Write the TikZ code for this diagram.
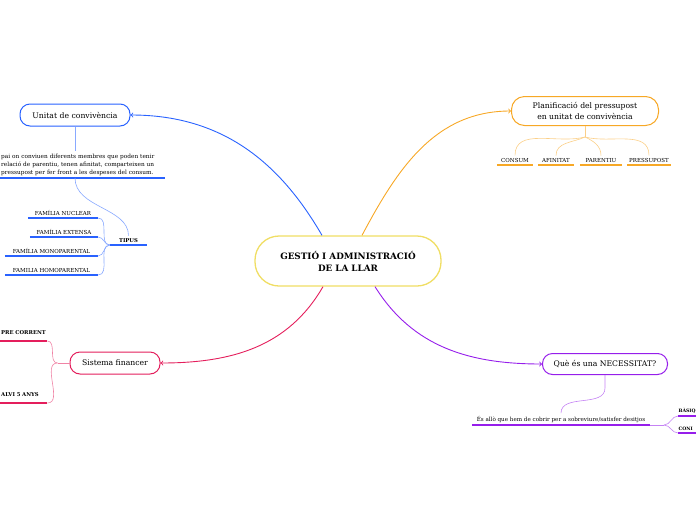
\documentclass[tikz,border=0pt]{standalone}
\usepackage{fontspec}
\setmainfont{DejaVu Serif}
\usetikzlibrary{calc}

\definecolor{llaryellow}{RGB}{240,222,100}
\definecolor{unitatblue}{RGB}{41,98,255}
\definecolor{planiforange}{RGB}{247,168,38}
\definecolor{financred}{RGB}{228,30,92}
\definecolor{necesspurple}{RGB}{150,30,235}

\tikzset{
  topic/.style={draw=#1, fill=white, line width=1pt, rounded corners=10pt, inner sep=2pt, font=\fontsize{7.7}{11}\selectfont},
  leaf/.style={inner xsep=1pt, inner ysep=2.5pt, font=\fontsize{5.5}{6}\selectfont},
  uline/.style={draw=#1, line width=1.4pt},
  branch/.style={draw=#1!55, line width=0.6pt},
  link/.style={draw=#1, line width=0.9pt, ->},
}

\begin{document}
\begin{tikzpicture}[x=1pt,y=1pt]
			\useasboundingbox (0,0) rectangle (696,-520);
			% centre
			\node[topic=llaryellow, line width=1.3pt, rounded corners=24pt, minimum width=186pt, minimum height=50pt, font=\fontsize{8.8}{12}\selectfont\bfseries, align=center] (llar) at (348,-261) {GESTIÓ I ADMINISTRACIÓ\\DE LA LLAR};
			% topics
			\node[topic=unitatblue, minimum width=110pt, minimum height=22pt] (unitat) at (75,-115) {Unitat de convivència};
			\node[topic=planiforange, minimum width=147pt, minimum height=29pt, rounded corners=13pt, align=center] (planif) at (585,-111) {Planificació del pressupost\\en unitat de convivència};
			\node[topic=financred, minimum width=90pt, minimum height=22pt] (sistema) at (115,-363) {Sistema financer};
			\node[topic=necesspurple, minimum width=125pt, minimum height=21pt] (necess) at (605,-364) {Què és una NECESSITAT?};
			\draw[link=unitatblue] ([xshift=-26pt]llar.north) to[out=120,in=0] (unitat.east);
			\draw[link=planiforange] ([xshift=14pt]llar.north) to[out=62,in=180] (planif.west);
			\draw[link=financred] ([xshift=-25pt]llar.south) to[out=-120,in=0] (sistema.east);
			\draw[link=necesspurple] ([xshift=27pt]llar.south) to[out=-58,in=180] (necess.west);
			% unitat de convivencia
			\node[leaf, anchor=south west, text width=163pt, align=left, font=\fontsize{5.8}{8}\selectfont] (defn) at (0,-178) {pai on conviuen diferents membres que poden tenir\\relació de parentiu, tenen afinitat, comparteixen un\\pressupost per fer front a les despeses del consum.};
			\draw[uline=unitatblue] (defn.south west) -- (defn.south east);
			\draw[branch=unitatblue] (unitat.south) -- (unitat.south |- defn.north);
			\node[leaf, anchor=south, minimum width=37pt, font=\fontsize{5.3}{6}\selectfont\bfseries] (tipus) at (128.5,-245) {TIPUS};
			\draw[uline=unitatblue] (tipus.south west) -- (tipus.south east);
			\draw[branch=unitatblue] (unitat.south |- defn.south) .. controls +(0,-30) and +(0,28) .. (tipus.north);
			\node[leaf, anchor=south, minimum width=70pt] (nuclear) at (63,-218) {FAMÍLIA NUCLEAR};
			\node[leaf, anchor=south, minimum width=68pt] (extensa) at (64,-237) {FAMÍLIA EXTENSA};
			\node[leaf, anchor=south, minimum width=93pt] (mono) at (51.5,-256) {FAMÍLIA MONOPARENTAL};
			\node[leaf, anchor=south, minimum width=93pt] (homo) at (51.5,-275) {FAMILIA HOMOPARENTAL};
			\draw[uline=unitatblue] (nuclear.south west) -- (nuclear.south east);
			\draw[uline=unitatblue] (extensa.south west) -- (extensa.south east);
			\draw[uline=unitatblue] (mono.south west) -- (mono.south east);
			\draw[uline=unitatblue] (homo.south west) -- (homo.south east);
			\draw[branch=unitatblue] (nuclear.south east) to[out=0,in=180] (tipus.south west);
			\draw[branch=unitatblue] (extensa.south east) to[out=0,in=180] (tipus.south west);
			\draw[branch=unitatblue] (mono.south east) to[out=0,in=180] (tipus.south west);
			\draw[branch=unitatblue] (homo.south east) to[out=0,in=180] (tipus.south west);
			% planificacio
			\coordinate (pj) at ($(planif.south)+(0,-11)$);
			\node[leaf, anchor=south, minimum width=36pt] (consum) at (515,-165) {CONSUM};
			\node[leaf, anchor=south, minimum width=36pt] (afinitat) at (556,-165) {AFINITAT};
			\node[leaf, anchor=south, minimum width=42pt] (parentiu) at (601,-165) {PARENTIU};
			\node[leaf, anchor=south, minimum width=44pt] (pressupost) at (649,-165) {PRESSUPOST};
			\draw[uline=planiforange] (consum.south west) -- (consum.south east);
			\draw[uline=planiforange] (afinitat.south west) -- (afinitat.south east);
			\draw[uline=planiforange] (parentiu.south west) -- (parentiu.south east);
			\draw[uline=planiforange] (pressupost.south west) -- (pressupost.south east);
			\draw[branch=planiforange] (planif.south) -- (pj);
			\draw[branch=planiforange] (pj) to[out=195,in=90] (consum.north);
			\draw[branch=planiforange] (pj) to[out=205,in=90] (afinitat.north);
			\draw[branch=planiforange] (pj) to[out=-25,in=90] (parentiu.north);
			\draw[branch=planiforange] (pj) to[out=-15,in=90] (pressupost.north);
			% sistema financer
			\coordinate (sj) at ($(sistema.west)+(-12,0)$);
			\node[leaf, anchor=south west, inner ysep=6pt, text width=45pt, align=left, font=\fontsize{5.3}{6}\selectfont\bfseries] (corrent) at (0,-341) {PRE CORRENT};
			\node[leaf, anchor=south west, inner ysep=6.5pt, text width=45pt, align=left, font=\fontsize{5.3}{6}\selectfont\bfseries] (estalvi) at (0,-403) {ALVI 5 ANYS};
			\draw[uline=financred] (corrent.south west) -- (corrent.south east);
			\draw[uline=financred] (estalvi.south west) -- (estalvi.south east);
			\draw[branch=financred] (sistema.west) -- (sj);
			\draw[branch=financred] (sj) to[out=180,in=0] (corrent.south east);
			\draw[branch=financred] (sj) to[out=180,in=0] (estalvi.south east);
			% necessitat
			\coordinate (nj) at (664,-425);
			\node[leaf, anchor=south, minimum width=178pt, font=\fontsize{5.6}{6}\selectfont] (ndefn) at (561,-425) {És allò que hem de cobrir per a sobreviure/satisfer desitjos};
			\node[leaf, anchor=south west, inner xsep=0.5pt, text width=17pt, align=left, font=\fontsize{4.6}{6}\selectfont\bfseries] (basiq) at (678,-416) {BÀSIQ};
			\node[leaf, anchor=south west, inner xsep=0.5pt, text width=17pt, align=left, font=\fontsize{4.6}{6}\selectfont\bfseries] (coni) at (678,-433) {CONI};
			\draw[uline=necesspurple] (ndefn.south west) -- (ndefn.south east);
			\draw[uline=necesspurple] (basiq.south west) -- (basiq.south east);
			\draw[uline=necesspurple] (coni.south west) -- (coni.south east);
			\draw[branch=necesspurple] (necess.south) -- ++(0,-13) to[out=-90,in=90] (ndefn.north);
			\draw[branch=necesspurple] (ndefn.south east) -- (nj);
			\draw[branch=necesspurple] (nj) to[out=0,in=180] (basiq.south west);
			\draw[branch=necesspurple] (nj) to[out=0,in=180] (coni.south west);
\end{tikzpicture}
\end{document}
